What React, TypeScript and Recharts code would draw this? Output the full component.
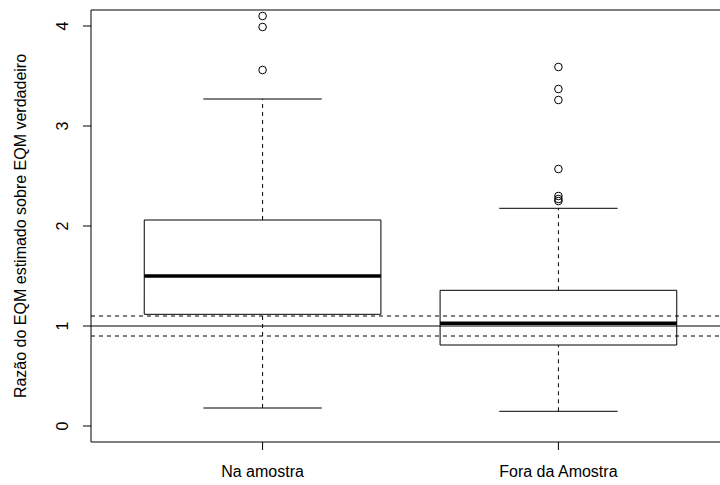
import {
  ComposedChart,
  Label,
  ReferenceArea,
  ReferenceLine,
  Scatter,
  XAxis,
  YAxis,
} from "recharts";

const groups = ["Na amostra", "Fora da Amostra"];
const lowerWhisker = [0.18, 0.147];
const q1 = [1.117, 0.81];
const median = [1.5, 1.027];
const q3 = [2.06, 1.357];
const upperWhisker = [3.27, 2.177];
const outliersNa = [4.1, 3.99, 3.56];
const outliersFora = [3.59, 3.37, 3.26, 2.57, 2.3, 2.27, 2.25];
const yTicks = [0, 1, 2, 3, 4];
const dashedRefs = [0.9, 1.1];
const solidRef = 1;

const FONT = '"Liberation Sans", Arial, Helvetica, sans-serif';
const FONT_SIZE = 16;
const X_DOMAIN: [number, number] = [0.42, 2.58];
const Y_DOMAIN: [number, number] = [-0.16, 4.16];
const BOX_HALF = 0.4;
const CAP_HALF = 0.2;

const outlierPoints = [
  ...outliersNa.map((y) => ({ x: 1, y })),
  ...outliersFora.map((y) => ({ x: 2, y })),
];

const YTick = ({ x, y, payload }: any) => (
  <text
    x={x}
    y={y}
    transform={`rotate(-90 ${x} ${y})`}
    textAnchor="middle"
    fontFamily={FONT}
    fontSize={FONT_SIZE}
    fill="#000"
  >
    {payload.value}
  </text>
);

const XTick = ({ x, y, payload }: any) => (
  <text x={x} y={y + 11} textAnchor="middle" fontFamily={FONT} fontSize={FONT_SIZE} fill="#000">
    {groups[payload.value - 1]}
  </text>
);

const Ring = ({ cx, cy }: any) => (
  <circle cx={cx} cy={cy} r={3.8} fill="none" stroke="#000" strokeWidth={1} />
);

const YTitle = ({ viewBox }: any) => {
  const vb = viewBox ?? { x: 0, y: 10, width: 91, height: 432 };
  const x = vb.x + 26;
  const y = vb.y + vb.height / 2;
  return (
    <text
      x={x}
      y={y}
      transform={`rotate(-90 ${x} ${y})`}
      textAnchor="middle"
      fontFamily={FONT}
      fontSize={FONT_SIZE}
      fill="#000"
    >
      Razão do EQM estimado sobre EQM verdadeiro
    </text>
  );
};

export default function App() {
  return (
    <div
      style={{
        position: "absolute",
        left: 0,
        top: 0,
        width: 720,
        height: 485,
        overflow: "hidden",
        background: "#fff",
      }}
    >
      <ComposedChart
        width={740}
        height={485}
        margin={{ top: 10, right: 10, left: 0, bottom: 0 }}
        data={outlierPoints}
      >
        <XAxis
          dataKey="x"
          type="number"
          domain={X_DOMAIN}
          allowDataOverflow
          ticks={[1, 2]}
          tick={<XTick />}
          tickSize={8}
          tickMargin={16}
          height={43}
          axisLine={false}
          tickLine={{ stroke: "#000" }}
        />
        <YAxis
          dataKey="y"
          type="number"
          domain={Y_DOMAIN}
          allowDataOverflow
          ticks={yTicks}
          tick={<YTick />}
          tickSize={8}
          tickMargin={15}
          width={91}
          axisLine={false}
          tickLine={{ stroke: "#000" }}
        >
          <Label content={<YTitle />} />
        </YAxis>

        {/* plot frame */}
        <ReferenceArea
          x1={X_DOMAIN[0]}
          x2={X_DOMAIN[1]}
          y1={Y_DOMAIN[0]}
          y2={Y_DOMAIN[1]}
          fill="none"
          fillOpacity={0}
          stroke="#000"
          strokeWidth={1}
          ifOverflow="visible"
        />

        {groups.map((g, i) => (
          <ReferenceArea
            key={`box-${g}`}
            x1={i + 1 - BOX_HALF}
            x2={i + 1 + BOX_HALF}
            y1={q1[i]}
            y2={q3[i]}
            fill="#fff"
            fillOpacity={1}
            stroke="#000"
            strokeWidth={1}
          />
        ))}

        {groups.map((g, i) => (
          <ReferenceLine
            key={`uw-${g}`}
            segment={[
              { x: i + 1, y: q3[i] },
              { x: i + 1, y: upperWhisker[i] },
            ]}
            stroke="#000"
            strokeDasharray="4 4"
          />
        ))}
        {groups.map((g, i) => (
          <ReferenceLine
            key={`lw-${g}`}
            segment={[
              { x: i + 1, y: lowerWhisker[i] },
              { x: i + 1, y: q1[i] },
            ]}
            stroke="#000"
            strokeDasharray="4 4"
          />
        ))}
        {groups.map((g, i) => (
          <ReferenceLine
            key={`ucap-${g}`}
            segment={[
              { x: i + 1 - CAP_HALF, y: upperWhisker[i] },
              { x: i + 1 + CAP_HALF, y: upperWhisker[i] },
            ]}
            stroke="#000"
          />
        ))}
        {groups.map((g, i) => (
          <ReferenceLine
            key={`lcap-${g}`}
            segment={[
              { x: i + 1 - CAP_HALF, y: lowerWhisker[i] },
              { x: i + 1 + CAP_HALF, y: lowerWhisker[i] },
            ]}
            stroke="#000"
          />
        ))}
        {groups.map((g, i) => (
          <ReferenceLine
            key={`med-${g}`}
            segment={[
              { x: i + 1 - BOX_HALF, y: median[i] },
              { x: i + 1 + BOX_HALF, y: median[i] },
            ]}
            stroke="#000"
            strokeWidth={3.5}
          />
        ))}

        <ReferenceLine y={solidRef} stroke="#000" strokeWidth={1} />
        {dashedRefs.map((v) => (
          <ReferenceLine key={`ref-${v}`} y={v} stroke="#000" strokeDasharray="4 4" />
        ))}

        <Scatter dataKey="y" shape={<Ring />} isAnimationActive={false} />
      </ComposedChart>
    </div>
  );
}
